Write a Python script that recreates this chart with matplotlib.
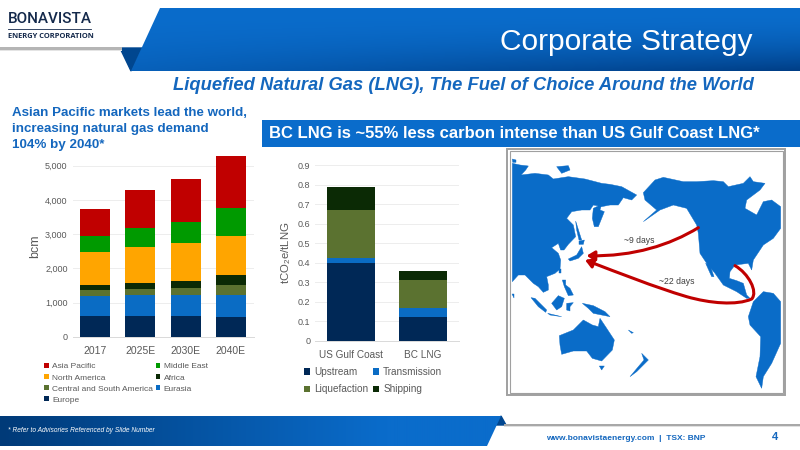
# plot.py - Bonavista corporate strategy slide
import matplotlib
matplotlib.use('Agg')
import matplotlib.pyplot as plt
import numpy as np
from matplotlib.patches import Polygon, Rectangle, FancyArrowPatch
from matplotlib.path import Path

plt.rcParams['font.family'] = ['Liberation Sans', 'DejaVu Sans']
plt.rcParams['mathtext.default'] = 'regular'

# Gas demand by region, bcm
years = ['2017', '2025E', '2030E', '2040E']
demand_labels = ['Europe', 'Eurasia', 'Central and South America', 'Africa',
                 'North America', 'Middle East', 'Asia Pacific']
europe = [600, 620, 600, 585]
eurasia = [585, 595, 615, 640]
central_south_america = [185, 185, 205, 280]
africa = [135, 165, 200, 300]
north_america = [970, 1075, 1110, 1155]
middle_east = [485, 555, 640, 810]
asia_pacific = [790, 1085, 1250, 1510]
demand_colors = ['#002856', '#0A6CC4', '#5B7230', '#0B2A05', '#FFA500', '#009A00', '#C00000']

# Carbon intensity, tCO2e/tLNG
routes = ['US Gulf Coast', 'BC LNG']
intensity_labels = ['Upstream', 'Transmission', 'Liquefaction', 'Shipping']
upstream = [0.40, 0.12]
transmission = [0.025, 0.05]
liquefaction = [0.245, 0.14]
shipping = [0.12, 0.05]
intensity_colors = ['#002856', '#0A6CC4', '#5B7230', '#0B2A05']

# Map outlines
asia = [(67,55),(90,60),(115,63),(107,75),(93,90),(135,85),(175,90),(190,102),(235,95),(285,102),
        (335,115),(360,118),(395,125),(440,150),(425,165),(400,158),(385,180),(360,180),(335,185),
        (310,180),(300,195),(275,195),(245,200),(230,220),(250,240),(257,275),(235,298),(222,315),
        (212,315),(205,295),(185,308),(205,325),(212,345),(210,372),(195,385),(170,395),(175,420),
        (175,435),(160,442),(145,425),(130,415),(105,390),(85,390),(67,410)]
okhotsk_peninsula = [(307,220),(310,190),(335,178),(330,195),(343,200),(325,245),(313,245)]
arctic_isles = [(200,65),(235,62),(240,75),(215,85)]
arctic_tip = [(67,42),(78,45),(78,52),(68,52)]
japan = [(235,342),(260,330),(275,305),(280,325),(265,340),(240,348)]
kuril_chain = [(257,228),(267,260),(275,285),(267,285),(260,255)]
hokkaido = [(267,288),(283,285),(280,298),(267,298)]
taiwan = [(208,372),(213,372),(213,384),(208,384)]
sri_lanka = [(67,448),(72,448),(72,458)]
philippines = [(217,405),(227,405),(227,420),(240,430),(250,450),(235,452),(223,425)]
borneo = [(185,475),(205,452),(223,460),(215,485),(200,495)]
sumatra = [(123,458),(135,460),(170,495),(167,502),(145,485)]
java = [(173,505),(215,515),(180,510)]
sulawesi = [(230,475),(250,473),(240,485),(240,498),(230,495)]
new_guinea = [(277,475),(310,482),(345,500),(360,515),(335,510),(310,505),(295,490)]
solomon = [(415,555),(430,563),(425,565)]
australia = [(208,572),(250,555),(280,525),(307,540),(325,545),(330,520),(350,550),(373,585),
             (367,615),(335,648),(307,640),(290,618),(250,618),(215,628),(210,600)]
tasmania = [(328,663),(343,663),(335,675)]
new_zealand = [(455,625),(475,645),(440,680),(420,695),(445,665),(462,645)]
north_america_map = [(460,143),(495,105),(520,97),(580,110),(620,110),(670,107),(700,110),
                     (715,125),(760,115),(780,95),(790,110),(825,115),(810,135),(770,165),
                     (765,190),(800,210),(820,170),(845,165),(872,185),(872,250),(850,280),
                     (820,300),(790,345),(785,375),(775,355),(735,360),(720,380),(718,400),
                     (740,407),(760,415),(770,450),(780,460),(770,460),(740,440),(700,420),
                     (675,385),(650,355),(630,325),(625,265),(620,240),(590,190),(550,180),
                     (510,195),(460,230),(500,195),(465,165)]
baja = [(647,355),(660,360),(672,395),(665,395)]
south_america = [(775,515),(790,470),(820,440),(850,445),(872,470),(872,595),(845,655),
                 (820,695),(815,730),(798,695),(810,635),(812,575),(780,540)]
land = [asia, okhotsk_peninsula, arctic_isles, arctic_tip, japan, kuril_chain, hokkaido, taiwan,
        sri_lanka, philippines, borneo, sumatra, java, sulawesi, new_guinea, solomon, australia,
        tasmania, new_zealand, north_america_map, baja, south_america]

BLUE = '#0A6CCB'
TEXT_BLUE = '#1467BE'
GREY = '#595959'


def px_axes(fig, x0, y0, x1, y1):
    # axes from pixel box, y measured from the top of the slide
    return fig.add_axes([x0 / 800, 1 - y1 / 450, (x1 - x0) / 800, (y1 - y0) / 450])


def gradient_poly(ax, pts, data):
    # gradient image clipped to a polygon
    xs, ys = zip(*pts)
    im = ax.imshow(data, extent=(min(xs), max(xs), max(ys), min(ys)), aspect='auto', zorder=2)
    im.set_clip_path(Polygon(pts, closed=True, transform=ax.transData))


def blue_ramp(start, end, t):
    s = np.array(matplotlib.colors.to_rgb(start))
    e = np.array(matplotlib.colors.to_rgb(end))
    return s + (e - s) * t[..., None]


def stacked(ax, labels, names, series, colors, fontsize):
    bottom = np.zeros(len(labels))
    bars = []
    for name, vals, col in zip(names, series, colors):
        bars.append(ax.bar(labels, vals, 0.667, bottom=bottom, color=col, label=name, zorder=3))
        bottom += np.array(vals)
    ax.set_xlim(-0.5, len(labels) - 0.5)
    ax.grid(axis='y', color='#EDEDED', lw=0.7, zorder=0)
    ax.set_axisbelow(True)
    for s in ['top', 'right', 'left']:
        ax.spines[s].set_visible(False)
    ax.spines['bottom'].set_color('#D9D9D9')
    ax.spines['bottom'].set_linewidth(0.7)
    ax.tick_params(length=0, colors=GREY)
    ax.tick_params(axis='x', labelsize=fontsize, pad=6.5)
    ax.patch.set_alpha(0)
    return bars


fig = plt.figure(figsize=(8, 4.5), dpi=100, facecolor='white')

# slide furniture
bg = fig.add_axes([0, 0, 1, 1])
bg.set_xlim(0, 800)
bg.set_ylim(450, 0)
bg.axis('off')

xx, yy = np.meshgrid(np.linspace(0, 1, 200), np.linspace(0, 1, 60))
top_t = yy ** 2 * (0.25 + 0.75 * xx)
gradient_poly(bg, [(160, 8), (800, 8), (800, 71), (131, 71)], blue_ramp(BLUE, '#003E86', top_t))
bg.add_patch(Polygon([(120, 48), (142, 48), (131, 71)], color='#00468F', zorder=1))
bg.add_patch(Rectangle((0, 47), 122, 2.5, color='#B5B5B5', lw=0, zorder=1))
bg.add_patch(Rectangle((0, 49.5), 122, 1.5, color='#E4E4E4', lw=0, zorder=1))
bg.text(753, 42, 'Corporate Strategy', color='white', fontsize=21.5, ha='right', va='center', zorder=4)
bg.text(754, 85, 'Liquefied Natural Gas (LNG), The Fuel of Choice Around the World',
        color=TEXT_BLUE, fontsize=13.25, weight='bold', style='italic', ha='right', va='center')

# logo as text
bg.text(8, 19, 'BONAVISTA', color='#14294B', fontsize=11, family='Roboto', weight='medium',
        ha='left', va='center')
bg.plot([8, 91], [29, 29], color='#14294B', lw=0.6)
bg.text(8, 36, 'ENERGY CORPORATION', color='#14294B', fontsize=5.4, weight='bold',
        family='Open Sans', ha='left', va='center')

bg.text(12, 129, 'Asian Pacific markets lead the world,\nincreasing natural gas demand\n104% by 2040*',
        color=TEXT_BLUE, fontsize=9.6, weight='bold', ha='left', va='center', linespacing=1.4)
bg.add_patch(Rectangle((262, 120), 538, 26.5, color=BLUE, lw=0))
bg.text(269, 134, 'BC LNG is ~55% less carbon intense than US Gulf Coast LNG*', color='white',
        fontsize=11.95, weight='bold', ha='left', va='center')

# footer
foot_t = np.clip(xx * 1.3, 0, 1)
gradient_poly(bg, [(0, 416), (501, 416), (487, 446), (0, 446)], blue_ramp('#003A78', BLUE, foot_t))
bg.add_patch(Polygon([(496, 425), (501, 416), (506, 425)], color='#00468F', zorder=1))
bg.add_patch(Rectangle((504, 424), 296, 1.5, color='#A8A8A8', lw=0, zorder=1))
bg.add_patch(Rectangle((504, 425.5), 296, 1.5, color='#E0E0E0', lw=0, zorder=1))
bg.text(8, 431, '* Refer to Advisories Referenced by Slide Number', color='white', fontsize=4.8,
        style='italic', ha='left', va='center', zorder=4)
bg.text(546, 438, 'www.bonavistaenergy.com  |  TSX: BNP', color=TEXT_BLUE, fontsize=6.05, weight='bold',
        ha='left', va='center')
bg.text(775, 437, '4', color=TEXT_BLUE, fontsize=8, weight='bold', ha='center', va='center')

# left chart
ax1 = px_axes(fig, 72.5, 155.4, 253.5, 337)
demand = [europe, eurasia, central_south_america, africa, north_america, middle_east, asia_pacific]
bars1 = stacked(ax1, years, demand_labels, demand, demand_colors, 7.5)
ax1.set_ylim(0, 5300)
ax1.set_yticks([0, 1000, 2000, 3000, 4000, 5000])
ax1.set_yticklabels(['0', '1,000', '2,000', '3,000', '4,000', '5,000'], fontsize=6.5)
ax1.set_ylabel('bcm', fontsize=9, color=GREY, labelpad=3)
order = [6, 4, 2, 0, 5, 3, 1]
fig.legend([bars1[i] for i in order], [demand_labels[i] for i in order], ncol=2, frameon=False,
           loc='upper left', bbox_to_anchor=(44 / 800, 1 - 363 / 450), fontsize=6, labelcolor=GREY,
           handlelength=0.55, handleheight=0.55, handletextpad=0.4, columnspacing=0.35,
           labelspacing=0.44, borderpad=0, borderaxespad=0)

# right chart
ax2 = px_axes(fig, 315, 165.3, 459, 340.7)
intensity = [upstream, transmission, liquefaction, shipping]
bars2 = stacked(ax2, routes, intensity_labels, intensity, intensity_colors, 7.2)
ax2.set_ylim(0, 0.9)
ax2.set_yticks(np.arange(0, 10) / 10)
ax2.set_yticklabels(['0', '0.1', '0.2', '0.3', '0.4', '0.5', '0.6', '0.7', '0.8', '0.9'], fontsize=6.5)
ax2.set_ylabel('tCO$_2$e/tLNG', fontsize=8.2, color=GREY, labelpad=3)
order2 = [0, 2, 1, 3]
fig.legend([bars2[i] for i in order2], [intensity_labels[i] for i in order2], ncol=2, frameon=False,
           loc='upper left', bbox_to_anchor=(304 / 800, 1 - 367 / 450), fontsize=7.2, labelcolor=GREY,
           handlelength=0.6, handleheight=0.6, handletextpad=0.4, columnspacing=0.5,
           labelspacing=0.75, borderpad=0, borderaxespad=0)

# map
mp = px_axes(fig, 490, 145, 800, 415)
mp.set_xlim(0, 930)
mp.set_ylim(810, 0)
mp.axis('off')
mp.add_patch(Rectangle((52, 12), 834, 738, fc='white', ec='#A0A0A0', lw=1.4))
mp.add_patch(Rectangle((60, 19), 818, 724, fc='white', ec='#A0A0A0', lw=0.8))
for outline in land:
    mp.add_patch(Polygon(outline, closed=True, color='#0A6CC8', lw=0.3))

red = '#C00000'
leg1 = Path([(625, 248), (540, 300), (430, 335), (290, 332)],
            [Path.MOVETO, Path.CURVE4, Path.CURVE4, Path.CURVE4])
leg2 = Path([(735, 362), (775, 385), (805, 440), (785, 462), (740, 482), (660, 475), (590, 455),
             (490, 425), (390, 385), (285, 345)],
            [Path.MOVETO] + [Path.CURVE4] * 9)
for p in [leg1, leg2]:
    mp.add_patch(FancyArrowPatch(path=p, arrowstyle='-|>,head_length=3.5,head_width=2.2',
                                 color=red, lw=2.2, mutation_scale=1.3, zorder=5))
mp.text(447, 285, '~9 days', fontsize=6.2, color='#404040', ha='center', va='center', zorder=6)
mp.text(560, 410, '~22 days', fontsize=6.2, color='#404040', ha='center', va='center', zorder=6)

fig.savefig('out.png', dpi=100)
